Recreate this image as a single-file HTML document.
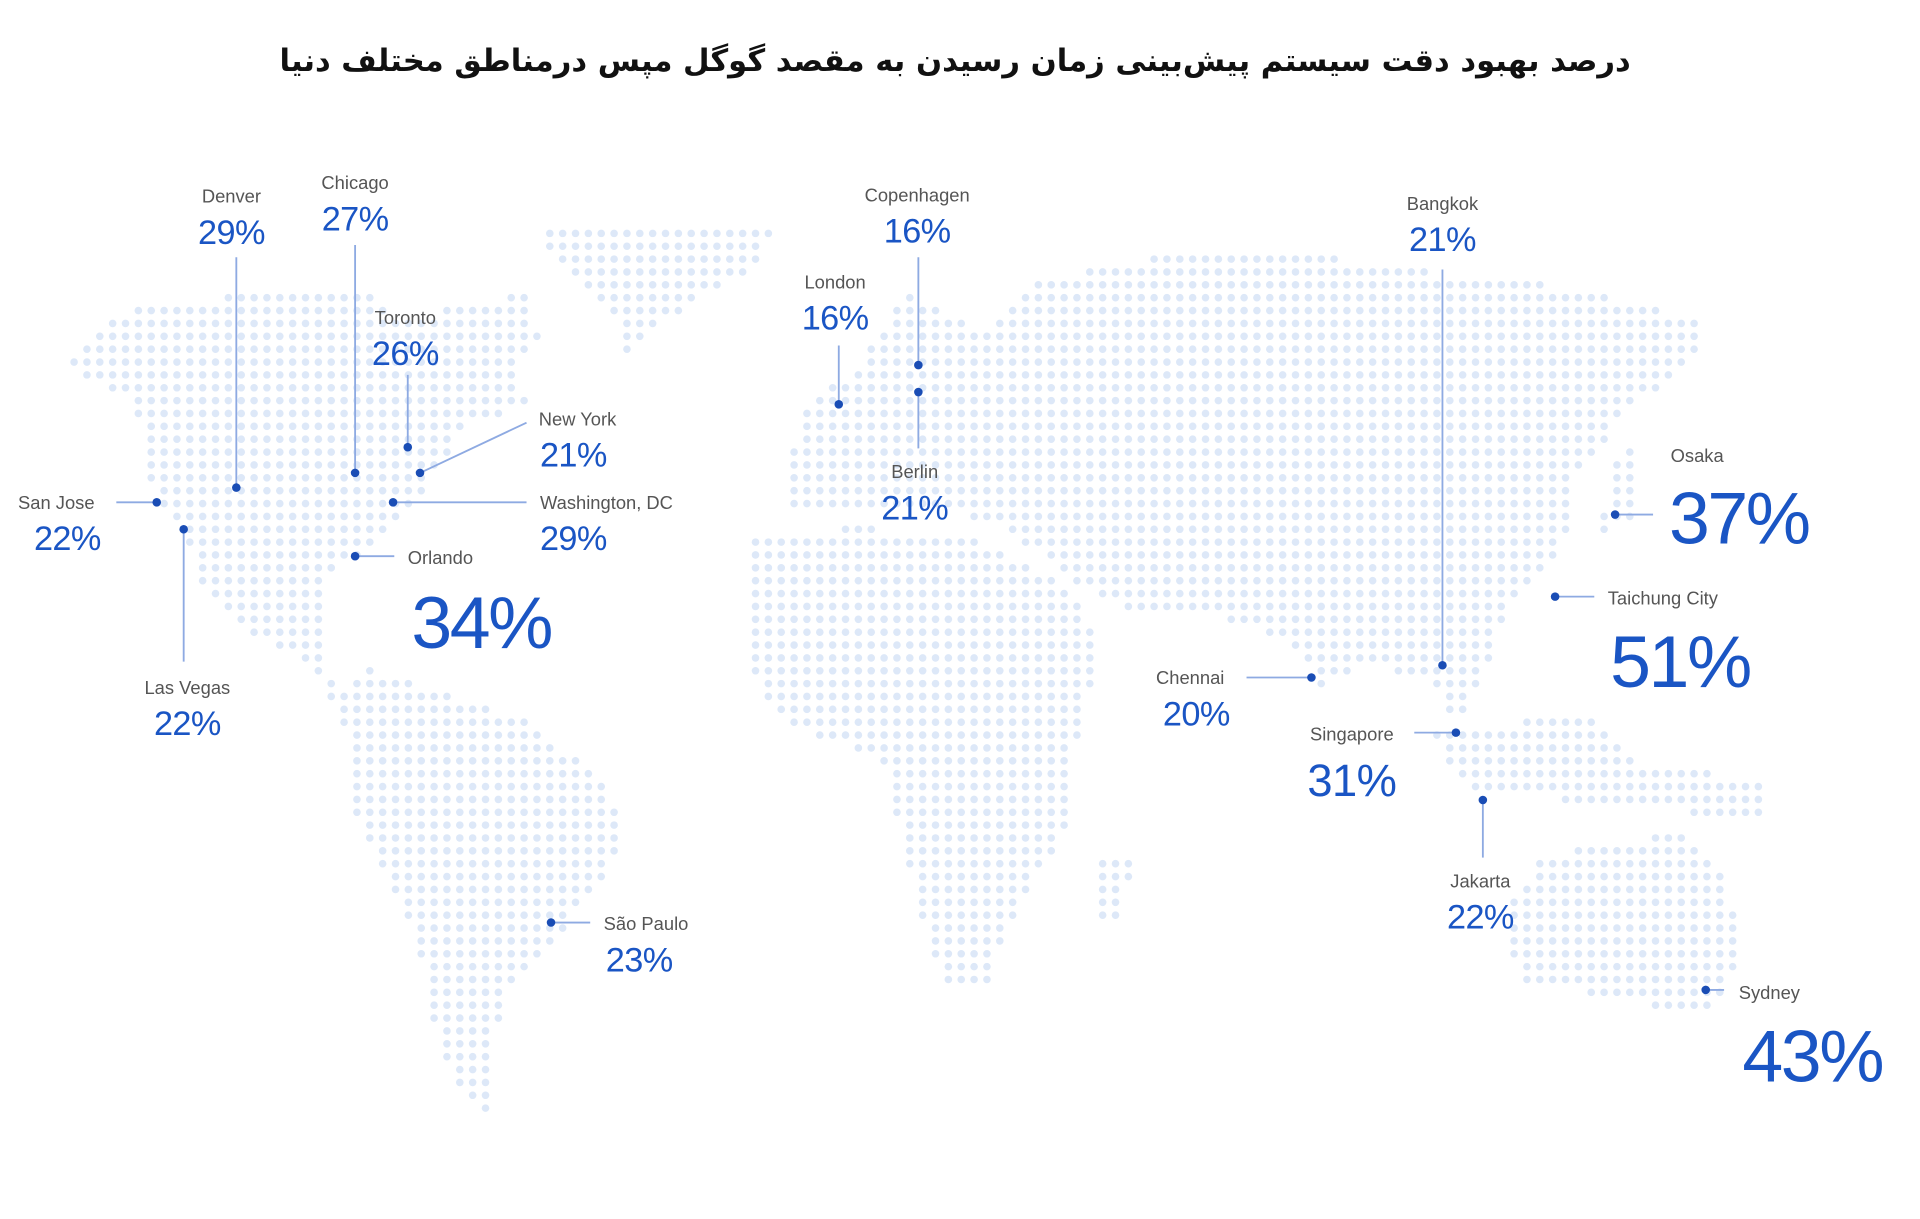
<!DOCTYPE html>
<html><head><meta charset="utf-8"><style>
html,body{margin:0;padding:0;background:#fff;width:1920px;height:1219px;overflow:hidden}
svg{display:block}
.n{font-family:"Liberation Sans",sans-serif;font-size:15px;fill:#555}
.p{font-family:"Liberation Sans",sans-serif;font-size:28px;fill:#1a55c4;letter-spacing:-0.5px}
.b{font-family:"Liberation Sans",sans-serif;font-size:60px;fill:#1a55c4;letter-spacing:-2px}
.l{stroke:#8eaae2;stroke-width:1.5}
.d{fill:#1a4db5}
</style></head><body>
<svg id="s" width="1920" height="1219" viewBox="0 0 1568 995" preserveAspectRatio="none" xmlns="http://www.w3.org/2000/svg">
<g id="dots"></g>
<text x="780" y="50" text-anchor="middle" dominant-baseline="central" direction="rtl" style="font-family:'DejaVu Sans',sans-serif;font-size:25px;font-weight:bold;fill:#111">درصد بهبود دقت سیستم پیش‌بینی زمان رسیدن به مقصد گوگل مپس درمناطق مختلف دنیا</text>
<g dominant-baseline="central">
<line class="l" x1="193" y1="210" x2="193" y2="398"/><circle class="d" cx="193" cy="398" r="3.5"/>
<text class="n" x="189" y="160" text-anchor="middle">Denver</text><text class="p" x="189" y="190" text-anchor="middle">29%</text>
<line class="l" x1="290" y1="200" x2="290" y2="386"/><circle class="d" cx="290" cy="386" r="3.5"/>
<text class="n" x="290" y="149" text-anchor="middle">Chicago</text><text class="p" x="290" y="179" text-anchor="middle">27%</text>
<line class="l" x1="333" y1="306" x2="333" y2="365"/><circle class="d" cx="333" cy="365" r="3.5"/>
<text class="n" x="331" y="259" text-anchor="middle">Toronto</text><text class="p" x="331" y="289" text-anchor="middle">26%</text>
<line class="l" x1="430" y1="345" x2="343" y2="386"/><circle class="d" cx="343" cy="386" r="3.5"/>
<text class="n" x="440" y="342">New York</text><text class="p" x="441" y="372">21%</text>
<line class="l" x1="430" y1="410" x2="321" y2="410"/><circle class="d" cx="321" cy="410" r="3.5"/>
<text class="n" x="441" y="410">Washington, DC</text><text class="p" x="441" y="440">29%</text>
<line class="l" x1="95" y1="410" x2="128" y2="410"/><circle class="d" cx="128" cy="410" r="3.5"/>
<text class="n" x="46" y="410" text-anchor="middle">San Jose</text><text class="p" x="55" y="440" text-anchor="middle">22%</text>
<line class="l" x1="150" y1="432" x2="150" y2="540"/><circle class="d" cx="150" cy="432" r="3.5"/>
<text class="n" x="153" y="561" text-anchor="middle">Las Vegas</text><text class="p" x="153" y="591" text-anchor="middle">22%</text>
<line class="l" x1="290" y1="454" x2="322" y2="454"/><circle class="d" cx="290" cy="454" r="3.5"/>
<text class="n" x="333" y="455">Orlando</text><text class="b" x="393" y="508" text-anchor="middle">34%</text>
<line class="l" x1="750" y1="210" x2="750" y2="298"/><circle class="d" cx="750" cy="298" r="3.5"/>
<text class="n" x="749" y="159" text-anchor="middle">Copenhagen</text><text class="p" x="749" y="189" text-anchor="middle">16%</text>
<line class="l" x1="685" y1="282" x2="685" y2="330"/><circle class="d" cx="685" cy="330" r="3.5"/>
<text class="n" x="682" y="230" text-anchor="middle">London</text><text class="p" x="682" y="260" text-anchor="middle">16%</text>
<line class="l" x1="750" y1="320" x2="750" y2="366"/><circle class="d" cx="750" cy="320" r="3.5"/>
<text class="n" x="747" y="385" text-anchor="middle">Berlin</text><text class="p" x="747" y="415" text-anchor="middle">21%</text>
<line class="l" x1="1178" y1="220" x2="1178" y2="543"/><circle class="d" cx="1178" cy="543" r="3.5"/>
<text class="n" x="1178" y="166" text-anchor="middle">Bangkok</text><text class="p" x="1178" y="196" text-anchor="middle">21%</text>
<line class="l" x1="1319" y1="420" x2="1350" y2="420"/><circle class="d" cx="1319" cy="420" r="3.5"/>
<text class="n" x="1386" y="372" text-anchor="middle">Osaka</text><text class="b" x="1363" y="423">37%</text>
<line class="l" x1="1270" y1="487" x2="1302" y2="487"/><circle class="d" cx="1270" cy="487" r="3.5"/>
<text class="n" x="1313" y="488">Taichung City</text><text class="b" x="1372" y="540" text-anchor="middle">51%</text>
<line class="l" x1="1018" y1="553" x2="1071" y2="553"/><circle class="d" cx="1071" cy="553" r="3.5"/>
<text class="n" x="972" y="553" text-anchor="middle">Chennai</text><text class="p" x="977" y="583" text-anchor="middle">20%</text>
<line class="l" x1="1155" y1="598" x2="1189" y2="598"/><circle class="d" cx="1189" cy="598" r="3.5"/>
<text class="n" x="1104" y="599" text-anchor="middle">Singapore</text><text class="p" x="1104" y="637" text-anchor="middle" style="font-size:37px">31%</text>
<line class="l" x1="1211" y1="653" x2="1211" y2="700"/><circle class="d" cx="1211" cy="653" r="3.5"/>
<text class="n" x="1209" y="719" text-anchor="middle">Jakarta</text><text class="p" x="1209" y="749" text-anchor="middle">22%</text>
<line class="l" x1="450" y1="753" x2="482" y2="753"/><circle class="d" cx="450" cy="753" r="3.5"/>
<text class="n" x="493" y="754">São Paulo</text><text class="p" x="522" y="784" text-anchor="middle">23%</text>
<line class="l" x1="1393" y1="808" x2="1408" y2="808"/><circle class="d" cx="1393" cy="808" r="3.5"/>
<text class="n" x="1420" y="810">Sydney</text><text class="b" x="1480" y="862" text-anchor="middle">43%</text>
</g>
</svg>
<script>
var polys=[
[[55,290],[100,255],[200,240],[300,240],[330,260],[380,250],[430,240],[440,280],[420,300],[430,330],[380,350],[360,380],[330,420],[300,450],[270,470],[260,500],[270,560],[250,540],[210,520],[170,490],[150,440],[125,400],[110,330],[60,300]],
[[440,190],[630,185],[620,220],[560,250],[510,290],[500,250],[460,220]],
[[240,520],[280,560],[300,545],[350,560],[430,590],[500,640],[505,700],[460,760],[420,800],[400,850],[405,915],[380,900],[350,830],[340,760],[290,660],[285,600]],
[[640,380],[660,330],[700,300],[740,240],[800,270],[850,230],[950,210],[1050,205],[1150,220],[1250,230],[1390,260],[1380,300],[1330,330],[1310,360],[1290,380],[1280,430],[1260,470],[1230,500],[1210,560],[1190,590],[1170,560],[1120,540],[1080,560],[1050,520],[980,500],[920,500],[870,470],[820,430],[760,410],[700,420],[650,420]],
[[610,440],[700,430],[800,440],[860,470],[900,520],[880,600],[870,680],[830,740],[805,805],[770,805],[740,700],[720,620],[640,590],[610,540]],
[[900,700],[925,695],[915,755],[898,752]],
[[1320,380],[1340,360],[1333,420],[1300,445]],
[[1170,600],[1300,580],[1330,620],[1445,640],[1445,670],[1300,655],[1200,645]],
[[1260,700],[1300,690],[1370,680],[1410,710],[1420,780],[1400,830],[1320,815],[1240,800],[1230,740]]
];
function inside(x,y,p){var c=false;for(var i=0,j=p.length-1;i<p.length;j=i++){var a=p[i],b=p[j];if((a[1]>y)!=(b[1]>y)&&x<(b[0]-a[0])*(y-a[1])/(b[1]-a[1])+a[0])c=!c;}return c;}
var g=document.getElementById('dots'),h='';
for(var y=180;y<925;y+=10.5)for(var x=50;x<1450;x+=10.5){for(var k=0;k<polys.length;k++)if(inside(x,y,polys[k])){h+='<circle cx="'+x.toFixed(1)+'" cy="'+y.toFixed(1)+'" r="3.1" fill="#dde8f8"/>';break;}}
g.innerHTML=h;
</script>
</body></html>
